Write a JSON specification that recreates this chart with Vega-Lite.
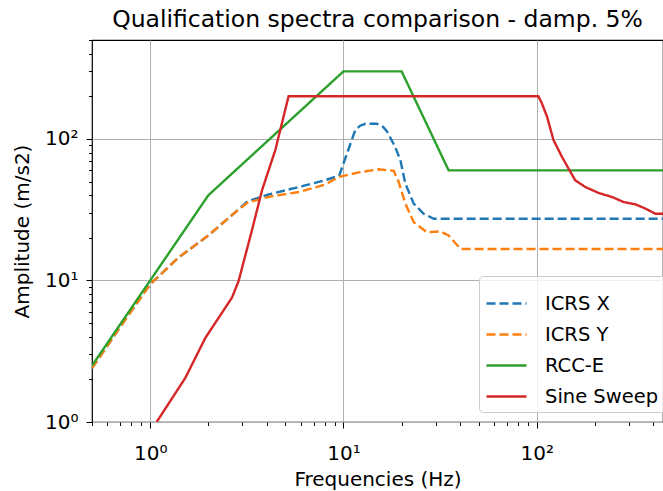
{
  "$schema": "https://vega.github.io/schema/vega-lite/v6.json",
  "autosize": {"type": "none"},
  "padding": {"left": 92, "top": 40, "right": 0, "bottom": 69},
  "width": 571,
  "height": 382,
  "background": "white",
  "title": {"text": "Qualification spectra comparison - damp. 5%", "font": "DejaVu Sans", "fontSize": 23.5, "fontWeight": "normal", "color": "#000", "offset": -1},
  "config": {
    "view": {"stroke": "#000", "strokeWidth": 1.2},
    "font": "DejaVu Sans"
  },
  "data": {"values": [
    {"series": "ICRS X", "freq": 0.5, "amp": 2.4},
    {"series": "ICRS X", "freq": 0.7, "amp": 4.7},
    {"series": "ICRS X", "freq": 1, "amp": 9.4},
    {"series": "ICRS X", "freq": 1.4, "amp": 14.5},
    {"series": "ICRS X", "freq": 2, "amp": 20.8},
    {"series": "ICRS X", "freq": 2.76, "amp": 30.4},
    {"series": "ICRS X", "freq": 3.2, "amp": 36.3},
    {"series": "ICRS X", "freq": 4.1, "amp": 40.5},
    {"series": "ICRS X", "freq": 5.9, "amp": 45.8},
    {"series": "ICRS X", "freq": 8, "amp": 51},
    {"series": "ICRS X", "freq": 9.5, "amp": 55},
    {"series": "ICRS X", "freq": 11.5, "amp": 115},
    {"series": "ICRS X", "freq": 12.2, "amp": 124},
    {"series": "ICRS X", "freq": 13, "amp": 128},
    {"series": "ICRS X", "freq": 14.9, "amp": 128},
    {"series": "ICRS X", "freq": 16, "amp": 122},
    {"series": "ICRS X", "freq": 16.8, "amp": 113},
    {"series": "ICRS X", "freq": 18.5, "amp": 88},
    {"series": "ICRS X", "freq": 19.7, "amp": 71},
    {"series": "ICRS X", "freq": 20.9, "amp": 48.4},
    {"series": "ICRS X", "freq": 23.1, "amp": 34.9},
    {"series": "ICRS X", "freq": 26, "amp": 29.6},
    {"series": "ICRS X", "freq": 29.3, "amp": 27.3},
    {"series": "ICRS X", "freq": 450, "amp": 27.3},
    {"series": "ICRS Y", "freq": 0.5, "amp": 2.4},
    {"series": "ICRS Y", "freq": 0.7, "amp": 4.7},
    {"series": "ICRS Y", "freq": 1, "amp": 9.4},
    {"series": "ICRS Y", "freq": 1.4, "amp": 14.5},
    {"series": "ICRS Y", "freq": 2, "amp": 20.8},
    {"series": "ICRS Y", "freq": 2.76, "amp": 30.4},
    {"series": "ICRS Y", "freq": 3.2, "amp": 35.5},
    {"series": "ICRS Y", "freq": 4.1, "amp": 39},
    {"series": "ICRS Y", "freq": 5.9, "amp": 42.2},
    {"series": "ICRS Y", "freq": 8, "amp": 47.5},
    {"series": "ICRS Y", "freq": 9.5, "amp": 54},
    {"series": "ICRS Y", "freq": 12, "amp": 58},
    {"series": "ICRS Y", "freq": 15.2, "amp": 61},
    {"series": "ICRS Y", "freq": 18.2, "amp": 59.5},
    {"series": "ICRS Y", "freq": 19.3, "amp": 49.7},
    {"series": "ICRS Y", "freq": 20.9, "amp": 34.9},
    {"series": "ICRS Y", "freq": 23.1, "amp": 25.8},
    {"series": "ICRS Y", "freq": 27, "amp": 21.9},
    {"series": "ICRS Y", "freq": 31.7, "amp": 22.2},
    {"series": "ICRS Y", "freq": 35, "amp": 20.8},
    {"series": "ICRS Y", "freq": 40.3, "amp": 16.7},
    {"series": "ICRS Y", "freq": 450, "amp": 16.7},
    {"series": "RCC-E", "freq": 0.5, "amp": 2.5},
    {"series": "RCC-E", "freq": 2, "amp": 40},
    {"series": "RCC-E", "freq": 10, "amp": 300},
    {"series": "RCC-E", "freq": 20, "amp": 300},
    {"series": "RCC-E", "freq": 35, "amp": 60},
    {"series": "RCC-E", "freq": 450, "amp": 60},
    {"series": "Sine Sweep", "freq": 1.08, "amp": 1.0},
    {"series": "Sine Sweep", "freq": 1.52, "amp": 2.05},
    {"series": "Sine Sweep", "freq": 1.93, "amp": 3.93},
    {"series": "Sine Sweep", "freq": 2.65, "amp": 7.57},
    {"series": "Sine Sweep", "freq": 2.87, "amp": 9.95},
    {"series": "Sine Sweep", "freq": 3.36, "amp": 22.6},
    {"series": "Sine Sweep", "freq": 3.79, "amp": 43.4},
    {"series": "Sine Sweep", "freq": 4.44, "amp": 83.5},
    {"series": "Sine Sweep", "freq": 5.2, "amp": 200},
    {"series": "Sine Sweep", "freq": 102, "amp": 200},
    {"series": "Sine Sweep", "freq": 106, "amp": 180},
    {"series": "Sine Sweep", "freq": 113, "amp": 144},
    {"series": "Sine Sweep", "freq": 122, "amp": 98.4},
    {"series": "Sine Sweep", "freq": 135, "amp": 74.8},
    {"series": "Sine Sweep", "freq": 158, "amp": 51.1},
    {"series": "Sine Sweep", "freq": 178, "amp": 45.8},
    {"series": "Sine Sweep", "freq": 209, "amp": 41.5},
    {"series": "Sine Sweep", "freq": 245, "amp": 38.9},
    {"series": "Sine Sweep", "freq": 282, "amp": 35.8},
    {"series": "Sine Sweep", "freq": 324, "amp": 34.5},
    {"series": "Sine Sweep", "freq": 365, "amp": 32.2},
    {"series": "Sine Sweep", "freq": 411, "amp": 29.6},
    {"series": "Sine Sweep", "freq": 450, "amp": 29.6}
  ]},
  "mark": {"type": "line", "strokeWidth": 2.4, "clip": true},
  "encoding": {
    "x": {
      "field": "freq", "type": "quantitative",
      "scale": {"type": "log", "domain": [0.5, 450], "nice": false},
      "axis": {
        "title": "Frequencies (Hz)", "titleFont": "DejaVu Sans", "titleFontSize": 20, "titleFontWeight": "normal", "titleColor": "#000", "titlePadding": 6,
        "values": [0.5,0.6,0.7,0.8,0.9,1,2,3,4,5,6,7,8,9,10,20,30,40,50,60,70,80,90,100,200,300,400],
        "labelExpr": "datum.value == 1 ? '10⁰' : datum.value == 10 ? '10¹' : datum.value == 100 ? '10²' : ''",
        "labelOverlap": false, "labelFontSize": 20, "labelColor": "#000", "labelPadding": 15,
        "domain": false,
        "tickColor": "#000", "tickWidth": 1,
        "tickSize": {"condition": {"test": "indexof([1,10,100], datum.value) >= 0", "value": 6}, "value": 3.5},
        "grid": true, "gridColor": "#b0b0b0", "gridWidth": 1,
        "gridOpacity": {"condition": {"test": "indexof([1,10,100], datum.value) >= 0", "value": 1}, "value": 0}
      }
    },
    "y": {
      "field": "amp", "type": "quantitative",
      "scale": {"type": "log", "domain": [1, 500], "nice": false},
      "axis": {
        "title": "Amplitude (m/s2)", "titleFont": "DejaVu Sans", "titleFontSize": 20, "titleFontWeight": "normal", "titleColor": "#000", "titlePadding": 12,
        "values": [1,2,3,4,5,6,7,8,9,10,20,30,40,50,60,70,80,90,100,200,300,400,500],
        "labelExpr": "datum.value == 1 ? '10⁰' : datum.value == 10 ? '10¹' : datum.value == 100 ? '10²' : ''",
        "labelOverlap": false, "labelFontSize": 20, "labelColor": "#000", "labelPadding": 8,
        "domain": false,
        "tickColor": "#000", "tickWidth": 1,
        "tickSize": {"condition": {"test": "indexof([1,10,100], datum.value) >= 0", "value": 6}, "value": 3.5},
        "grid": true, "gridColor": "#b0b0b0", "gridWidth": 1,
        "gridOpacity": {"condition": {"test": "indexof([1,10,100], datum.value) >= 0", "value": 1}, "value": 0}
      }
    },
    "color": {
      "field": "series", "type": "nominal",
      "scale": {"domain": ["ICRS X", "ICRS Y", "RCC-E", "Sine Sweep"], "range": ["#1f77b4", "#ff7f0e", "#2ca02c", "#d62728"]},
      "legend": {
        "title": null, "orient": "none", "legendX": 387, "legendY": 236,
        "symbolType": "stroke", "symbolSize": 1600, "symbolStrokeWidth": 2.4,
        "labelFontSize": 19.5, "labelColor": "#000", "labelFont": "DejaVu Sans",
        "padding": 6, "rowPadding": -2, "labelOffset": 17,
        "strokeColor": "#cccccc", "fillColor": "rgba(255,255,255,0.8)", "cornerRadius": 4
      }
    },
    "strokeDash": {
      "field": "series", "type": "nominal",
      "scale": {"domain": ["ICRS X", "ICRS Y", "RCC-E", "Sine Sweep"], "range": [[9, 4], [9, 4], [1, 0], [1, 0]]},
      "legend": {
        "title": null, "orient": "none", "legendX": 387, "legendY": 236,
        "symbolType": "stroke", "symbolSize": 1600, "symbolStrokeWidth": 2.4,
        "labelFontSize": 19.5, "labelColor": "#000", "labelFont": "DejaVu Sans",
        "padding": 6, "rowPadding": -2, "labelOffset": 17,
        "strokeColor": "#cccccc", "fillColor": "rgba(255,255,255,0.8)", "cornerRadius": 4
      }
    }
  }
}
